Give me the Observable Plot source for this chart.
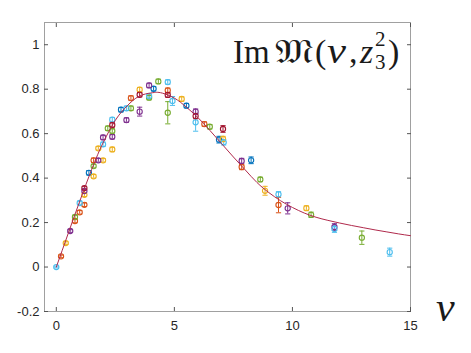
<!DOCTYPE html>
<html><head><meta charset="utf-8">
<script src="https://cdn.jsdelivr.net/npm/d3@7"></script>
<script src="https://cdn.jsdelivr.net/npm/@observablehq/plot@0.6"></script>
<style>body{margin:0;background:#fff;} #chart{width:471px;height:353px;}</style>
</head><body><div id="chart"></div>
<script>
// Series (colour groups)
const seriesNames = ["z1", "z2", "z3", "z4", "z5", "z6", "z7"];
const seriesColors = ["#0072BD", "#D95319", "#EDB120", "#7E2F8E", "#77AC30", "#4DBEEE", "#A2142F"];

// z1 (blue)
const nuBlue = [1.38, 2.74, 4.12, 5.51, 6.89, 8.25];
const imBlue = [0.424, 0.708, 0.802, 0.726, 0.573, 0.48];
const errBlue = [0.01, 0.01, 0.01, 0.01, 0.015, 0.015];
// z2 (orange)
const nuOrange = [0.2, 0.79, 0.99, 1.19, 1.58, 3.16, 4.72, 6.27, 7.85, 9.41];
const imOrange = [0.048, 0.207, 0.246, 0.28, 0.48, 0.76, 0.795, 0.643, 0.45, 0.279];
const errOrange = [0.006, 0.008, 0.008, 0.008, 0.01, 0.01, 0.01, 0.01, 0.012, 0.035];
// z3 (yellow)
const nuYellow = [0.4, 1.19, 1.58, 1.78, 1.98, 2.37, 3.53, 5.31, 7.06, 8.84, 10.59];
const imYellow = [0.108, 0.325, 0.408, 0.534, 0.48, 0.529, 0.798, 0.756, 0.576, 0.343, 0.265];
const errYellow = [0.006, 0.008, 0.008, 0.008, 0.008, 0.01, 0.01, 0.01, 0.012, 0.02, 0.01];
// z4 (purple)
const nuPurple = [0.59, 1.19, 1.78, 1.98, 2.37, 2.97, 3.53, 3.93, 5.9, 7.85, 9.8, 11.78];
const imPurple = [0.162, 0.342, 0.48, 0.583, 0.586, 0.661, 0.699, 0.817, 0.699, 0.477, 0.264, 0.18];
const errPurple = [0.006, 0.008, 0.008, 0.01, 0.01, 0.01, 0.02, 0.01, 0.012, 0.012, 0.025, 0.015];
// z5 (green)
const nuGreen = [0.79, 1.58, 2.18, 2.37, 3.16, 3.93, 4.32, 4.72, 6.5, 8.64, 10.79, 12.94];
const imGreen = [0.225, 0.454, 0.624, 0.612, 0.714, 0.762, 0.835, 0.694, 0.631, 0.394, 0.235, 0.132];
const errGreen = [0.008, 0.008, 0.01, 0.01, 0.01, 0.01, 0.01, 0.05, 0.01, 0.01, 0.012, 0.03];
// z6 (light blue)
const nuLightBlue = [0, 0.99, 1.98, 2.37, 2.97, 3.93, 4.72, 4.92, 5.9, 7.09, 9.41, 11.78, 14.12];
const imLightBlue = [0, 0.288, 0.552, 0.663, 0.714, 0.769, 0.832, 0.747, 0.651, 0.561, 0.327, 0.171, 0.067];
const errLightBlue = [0.004, 0.008, 0.01, 0.01, 0.01, 0.01, 0.01, 0.02, 0.04, 0.012, 0.012, 0.015, 0.018];
// z7 (dark red)
const nuDarkRed = [1.19, 2.37, 3.53, 4.72, 5.9, 7.06];
const imDarkRed = [0.355, 0.639, 0.775, 0.774, 0.679, 0.621];
const errDarkRed = [0.008, 0.01, 0.01, 0.01, 0.012, 0.015];

// Fitted curve
const curveNu = [0, 0.25, 0.5, 0.75, 1, 1.25, 1.5, 1.75, 2, 2.5, 3, 3.5, 4, 4.25, 4.5, 5, 5.5, 6, 6.5, 7, 7.5, 8, 8.5, 9, 9.5, 10, 10.5, 11, 11.5, 12, 12.5, 13, 13.5, 14, 14.5, 15];
const curveIm = [0, 0.075, 0.15, 0.225, 0.298, 0.37, 0.44, 0.505, 0.563, 0.66, 0.725, 0.768, 0.783, 0.786, 0.782, 0.76, 0.72, 0.672, 0.615, 0.555, 0.495, 0.437, 0.38, 0.335, 0.298, 0.268, 0.243, 0.224, 0.21, 0.198, 0.187, 0.177, 0.167, 0.158, 0.149, 0.141];

// Axes
const xTicks = [0, 5, 10, 15];
const xTickLabels = ["0", "5", "10", "15"];
const yTicks = [-0.2, 0, 0.2, 0.4, 0.6, 0.8, 1];
const yTickLabels = ["-0.2", "0", "0.2", "0.4", "0.6", "0.8", "1"];

const groups = [
  ["z1", nuBlue, imBlue, errBlue],
  ["z2", nuOrange, imOrange, errOrange],
  ["z3", nuYellow, imYellow, errYellow],
  ["z4", nuPurple, imPurple, errPurple],
  ["z5", nuGreen, imGreen, errGreen],
  ["z6", nuLightBlue, imLightBlue, errLightBlue],
  ["z7", nuDarkRed, imDarkRed, errDarkRed]
];
const points = groups.flatMap(([s, nu, im, err]) => nu.map((n, i) => ({s, nu: n, im: im[i], lo: im[i] - err[i], hi: im[i] + err[i]})));
const curve = curveNu.map((n, i) => ({nu: n, im: curveIm[i]}));

const capSymbol = {draw(context, size) { const w = Math.sqrt(size / Math.PI); context.moveTo(-w, 0); context.lineTo(w, 0); }};

const chart = Plot.plot({
  width: 471, height: 353,
  marginLeft: 44, marginRight: 61, marginTop: 22, marginBottom: 42,
  style: {fontFamily: "'Liberation Sans', Arial, sans-serif", fontSize: "13px", color: "#262626", background: "#fff"},
  x: {domain: [-0.5, 15], label: null},
  y: {domain: [-0.2, 1.1], label: null},
  color: {domain: seriesNames, range: seriesColors},
  marks: [
    Plot.frame({stroke: "#a0a0a0"}),
    Plot.axisX({anchor: "bottom", ticks: xTicks, tickFormat: (d) => xTickLabels[xTicks.indexOf(d)], tickSize: -4, tickPadding: 13, stroke: "#555", fill: "#262626"}),
    Plot.axisX({anchor: "top", ticks: xTicks, tickFormat: () => "", tickSize: -4, stroke: "#555"}),
    Plot.axisY({anchor: "left", ticks: yTicks, tickFormat: (d) => yTickLabels[yTicks.indexOf(d)], tickSize: -4, tickPadding: 9, stroke: "#555", fill: "#262626"}),
    Plot.axisY({anchor: "right", ticks: yTicks, tickFormat: () => "", tickSize: -4, stroke: "#555"}),
    Plot.ruleX(points, {x: "nu", y1: "lo", y2: "hi", stroke: "s", strokeWidth: 1}),
    Plot.dot(points, {x: "nu", y: "lo", symbol: capSymbol, r: 2.6, stroke: "s", strokeWidth: 1}),
    Plot.dot(points, {x: "nu", y: "hi", symbol: capSymbol, r: 2.6, stroke: "s", strokeWidth: 1}),
    Plot.dot(points, {x: "nu", y: "im", r: 2.6, stroke: "s", fill: "none", strokeWidth: 1.1}),
    Plot.line(curve, {x: "nu", y: "im", curve: "natural", stroke: "#b02a4c", strokeWidth: 1})
  ]
});
document.getElementById("chart").appendChild(chart);

// Annotations: title inside the frame and the ν axis label
const svg = d3.select(chart);
const g = svg.append("g").attr("font-family", "'Liberation Serif', 'DejaVu Serif', serif").attr("fill", "#1a1a1a").attr("text-anchor", "start");
g.append("text").attr("x", 233).attr("y", 62.5).attr("font-size", 33).text("Im");
g.append("text").attr("x", 275).attr("y", 62.5).attr("font-size", 34).attr("textLength", 38).attr("lengthAdjust", "spacingAndGlyphs").text("𝔐");
g.append("text").attr("x", 315).attr("y", 62.5).attr("font-size", 34).text("(");
g.append("text").attr("x", 327).attr("y", 62.5).attr("font-size", 36).attr("font-style", "italic").attr("textLength", 19).attr("lengthAdjust", "spacingAndGlyphs").text("ν");
g.append("text").attr("x", 349).attr("y", 62.5).attr("font-size", 34).text(",");
g.append("text").attr("x", 360).attr("y", 62.5).attr("font-size", 34).attr("font-style", "italic").text("z");
g.append("text").attr("x", 375).attr("y", 45.5).attr("font-size", 21).text("2");
g.append("text").attr("x", 375).attr("y", 69).attr("font-size", 21).text("3");
g.append("text").attr("x", 388).attr("y", 62.5).attr("font-size", 34).text(")");
g.append("text").attr("x", 436).attr("y", 321).attr("font-size", 42).attr("font-style", "italic").text("ν");
</script>
</body></html>
